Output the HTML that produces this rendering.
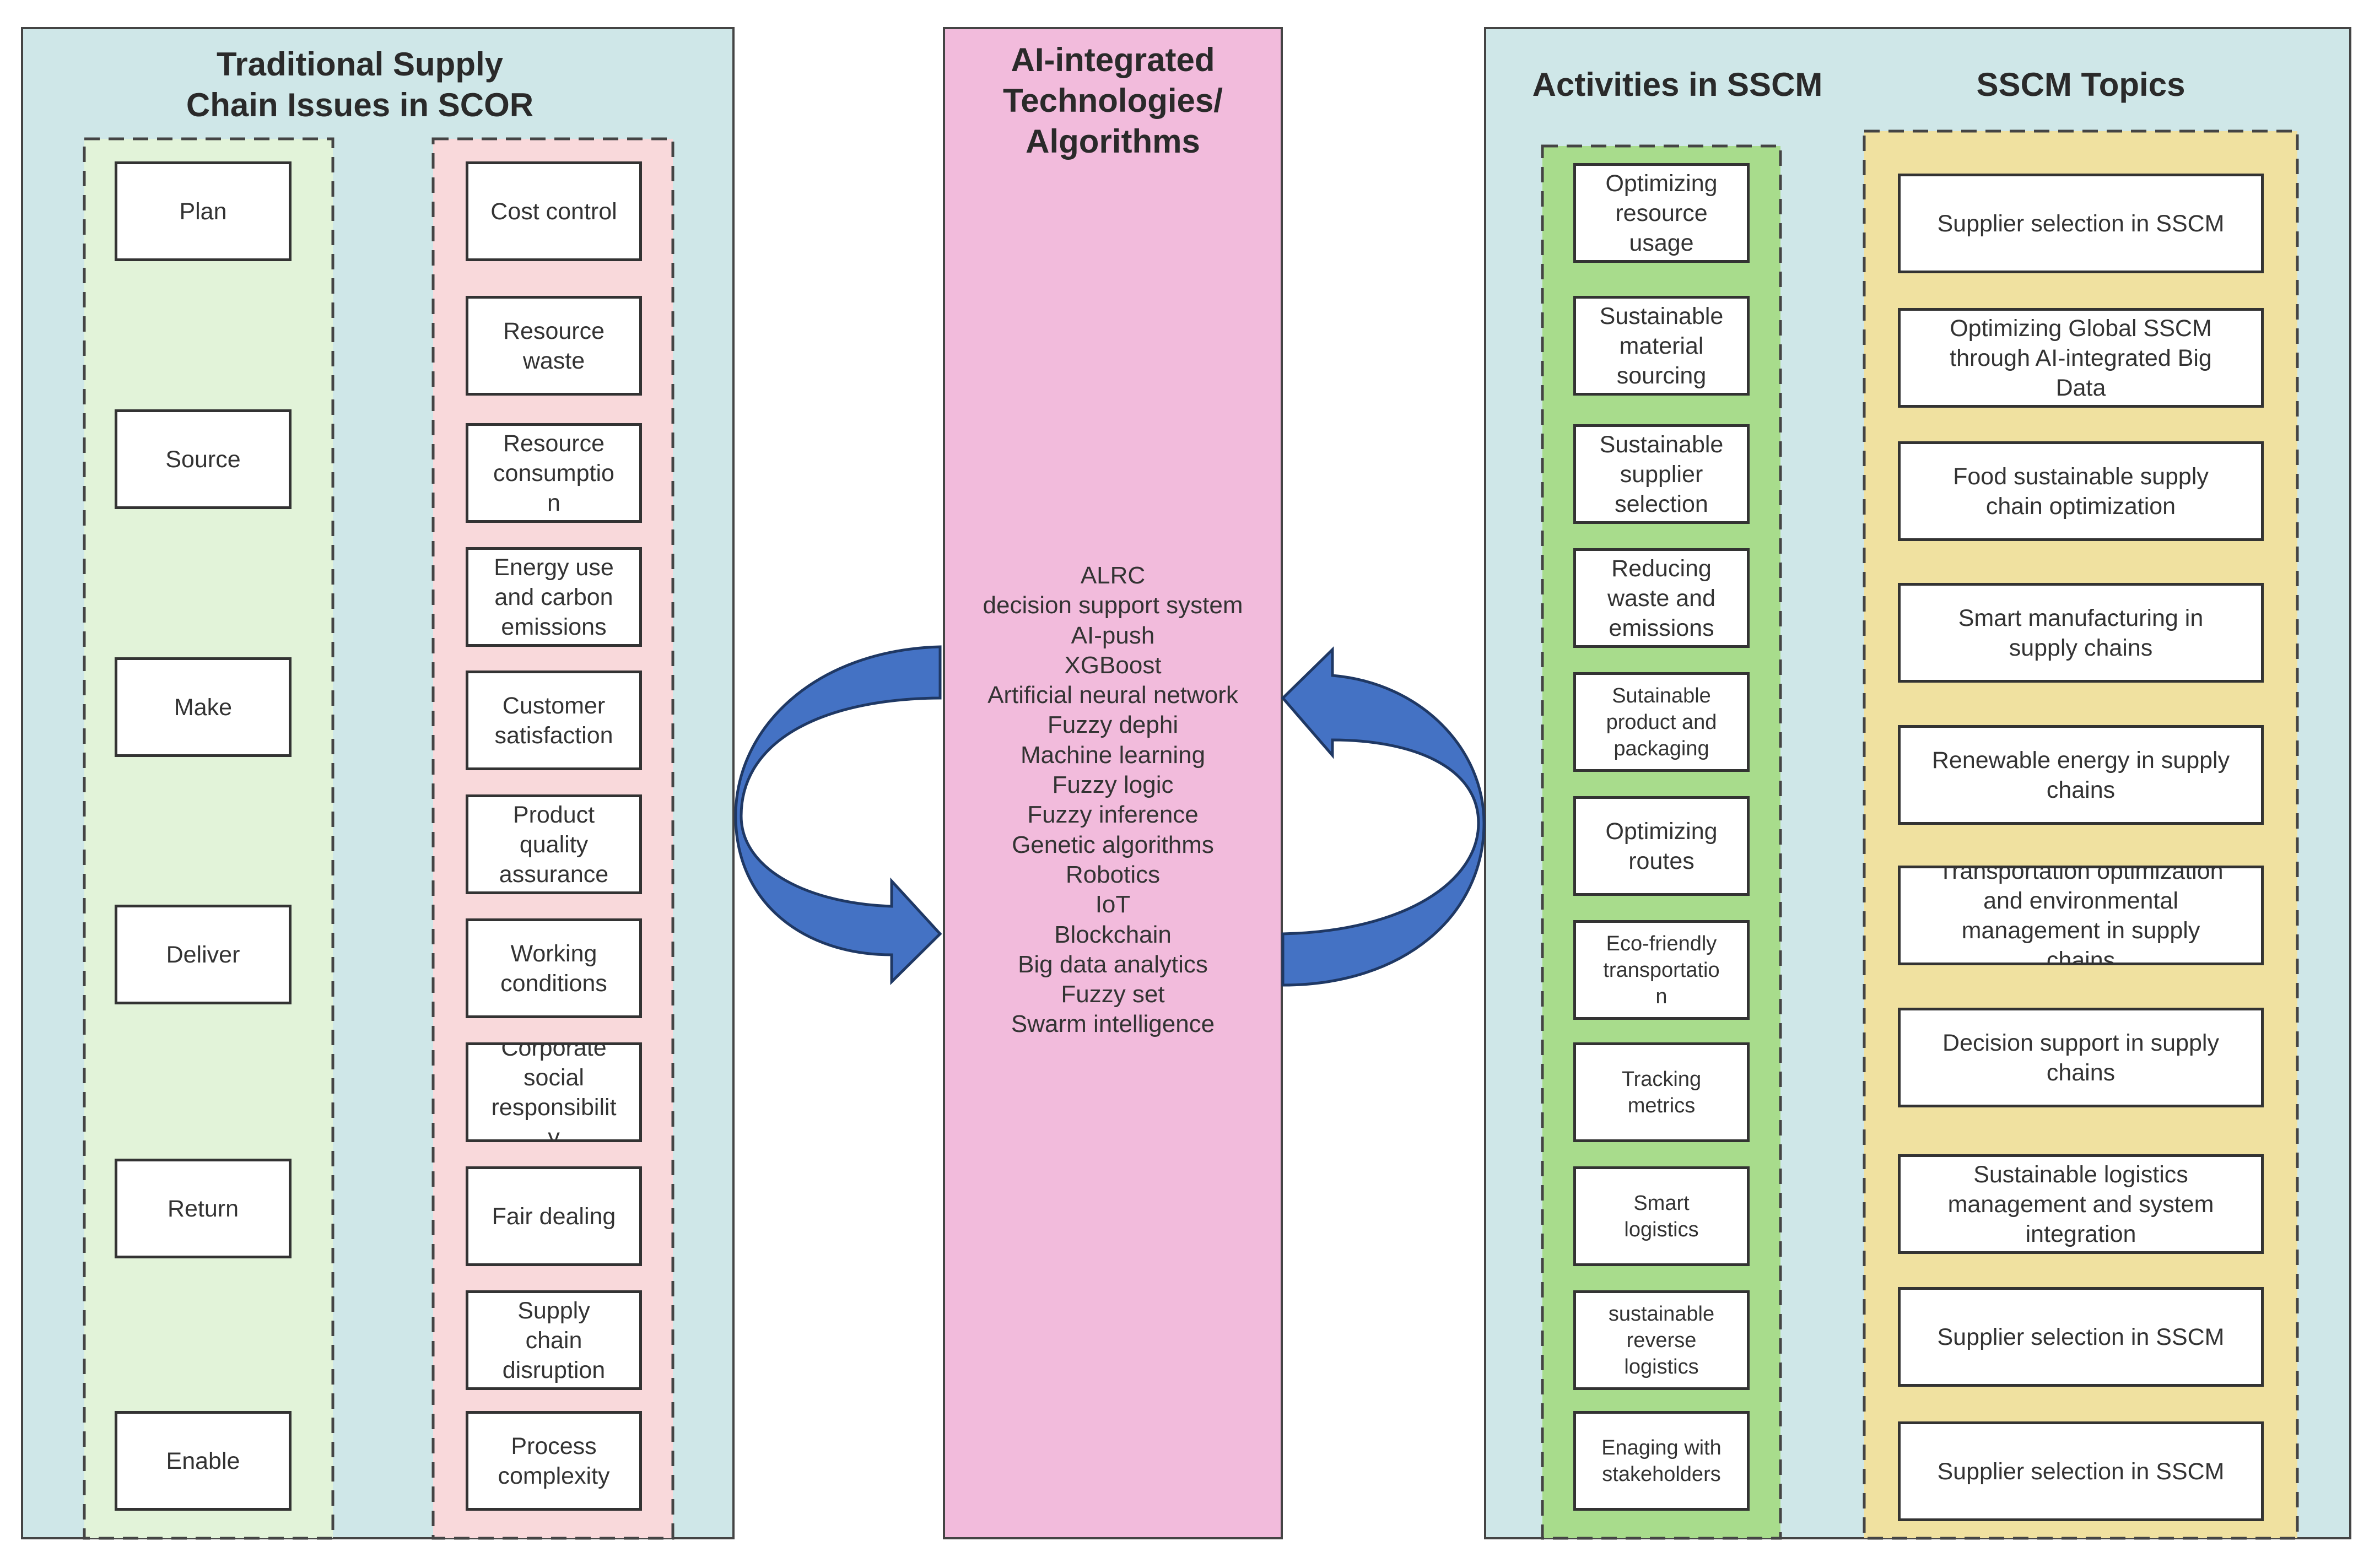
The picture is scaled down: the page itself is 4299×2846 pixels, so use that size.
<!DOCTYPE html>
<html><head><meta charset="utf-8"><style>
*{margin:0;padding:0;box-sizing:border-box}
body{width:4299px;height:2846px;background:#fff;position:relative;overflow:hidden;font-family:"Liberation Sans",sans-serif;color:#333}
.a{position:absolute}
.panel{background:#cfe7e8;border:4px solid #444}
.box{position:absolute;background:#fff;border:5px solid #333;display:flex;align-items:center;justify-content:center;text-align:center;font-size:43px;line-height:54px;color:#333}
.t{position:absolute;font-weight:bold;font-size:60px;text-align:center;color:#2a2a2a;line-height:74px}
.l{width:321px;height:181px;left:208px}
.r{width:320px;height:181px;left:845px}
.ac{width:320px;height:181px;left:2855px}
.tp{width:664px;height:181px;left:3444px}
.sm{font-size:38px;line-height:48px}
</style></head><body>
<div class="a panel" style="left:38px;top:49px;width:1295px;height:2745px"></div>
<div class="a panel" style="left:2693px;top:49px;width:1574px;height:2745px"></div>
<svg class="a" style="left:0;top:0" width="4299" height="2846">
<g stroke="#444" stroke-width="5" stroke-dasharray="28 16">
<rect x="153" y="252" width="451" height="2540" fill="#e2f3d9"/>
<rect x="786" y="252" width="435" height="2540" fill="#f9d9db"/>
<rect x="2799" y="265" width="432" height="2527" fill="#a8dc8c"/>
<rect x="3383" y="238" width="786" height="2554" fill="#f0e1a0"/>
</g>
</svg>
<div class="t" style="left:200px;top:80px;width:906px">Traditional Supply<br>Chain Issues in SCOR</div>
<div class="box l" style="top:293px">Plan</div>
<div class="box l" style="top:743px">Source</div>
<div class="box l" style="top:1193px">Make</div>
<div class="box l" style="top:1642px">Deliver</div>
<div class="box l" style="top:2103px">Return</div>
<div class="box l" style="top:2561px">Enable</div>
<div class="box r" style="top:293px">Cost control</div>
<div class="box r" style="top:537px">Resource<br>waste</div>
<div class="box r" style="top:768px">Resource<br>consumptio<br>n</div>
<div class="box r" style="top:993px">Energy use<br>and carbon<br>emissions</div>
<div class="box r" style="top:1217px">Customer<br>satisfaction</div>
<div class="box r" style="top:1442px">Product<br>quality<br>assurance</div>
<div class="box r" style="top:1667px">Working<br>conditions</div>
<div class="box r" style="top:1892px;overflow:hidden">Corporate<br>social<br>responsibilit<br>y</div>
<div class="box r" style="top:2117px">Fair dealing</div>
<div class="box r" style="top:2342px">Supply<br>chain<br>disruption</div>
<div class="box r" style="top:2561px">Process<br>complexity</div>

<div class="a" style="left:1711px;top:49px;width:617px;height:2745px;background:#f2bbdc;border:4px solid #444"></div>
<div class="t" style="left:1711px;top:72px;width:617px">AI-integrated<br>Technologies/<br>Algorithms</div>
<div class="a" style="left:1711px;top:1018px;width:617px;text-align:center;font-size:44px;line-height:54.3px;color:#333">ALRC<br>decision support system<br>AI-push<br>XGBoost<br>Artificial neural network<br>Fuzzy dephi<br>Machine learning<br>Fuzzy logic<br>Fuzzy inference<br>Genetic algorithms<br>Robotics<br>IoT<br>Blockchain<br>Big data analytics<br>Fuzzy set<br>Swarm intelligence</div>

<div class="t" style="left:2744px;top:117px;width:600px">Activities in SSCM</div>
<div class="t" style="left:3476px;top:117px;width:600px">SSCM Topics</div>
<div class="box ac" style="top:296px">Optimizing<br>resource<br>usage</div>
<div class="box ac" style="top:537px">Sustainable<br>material<br>sourcing</div>
<div class="box ac" style="top:770px">Sustainable<br>supplier<br>selection</div>
<div class="box ac" style="top:995px">Reducing<br>waste and<br>emissions</div>
<div class="box ac sm" style="top:1220px">Sutainable<br>product and<br>packaging</div>
<div class="box ac" style="top:1445px">Optimizing<br>routes</div>
<div class="box ac sm" style="top:1670px">Eco-friendly<br>transportatio<br>n</div>
<div class="box ac sm" style="top:1892px">Tracking<br>metrics</div>
<div class="box ac sm" style="top:2117px">Smart<br>logistics</div>
<div class="box ac sm" style="top:2342px">sustainable<br>reverse<br>logistics</div>
<div class="box ac sm" style="top:2561px">Enaging with<br>stakeholders</div>
<div class="box tp" style="top:315px">Supplier selection in SSCM</div>
<div class="box tp" style="top:559px">Optimizing Global SSCM<br>through AI-integrated Big<br>Data</div>
<div class="box tp" style="top:801px">Food sustainable supply<br>chain optimization</div>
<div class="box tp" style="top:1058px">Smart manufacturing in<br>supply chains</div>
<div class="box tp" style="top:1316px">Renewable energy in supply<br>chains</div>
<div class="box tp" style="top:1571px;overflow:hidden">Transportation optimization<br>and environmental<br>management in supply<br>chains</div>
<div class="box tp" style="top:1829px">Decision support in supply<br>chains</div>
<div class="box tp" style="top:2095px">Sustainable logistics<br>management and system<br>integration</div>
<div class="box tp" style="top:2336px">Supplier selection in SSCM</div>
<div class="box tp" style="top:2580px">Supplier selection in SSCM</div>

<svg class="a" style="left:0;top:0" width="4299" height="2846">
<path d="M1706,1174 C1480,1180 1335,1320 1335,1481 C1335,1640 1460,1733 1618,1733 L1618,1782 L1706,1695 L1618,1599 L1618,1645 C1470,1640 1345,1580 1345,1481 C1345,1340 1500,1268 1706,1267 Z" fill="#4472c4" stroke="#1f3864" stroke-width="5"/>
<path d="M2328,1695 C2550,1690 2683,1600 2683,1494 C2683,1390 2560,1343 2418,1343 L2418,1371 L2328,1267 L2418,1179 L2418,1226 C2580,1240 2693,1360 2693,1494 C2693,1660 2550,1788 2328,1788 Z" fill="#4472c4" stroke="#1f3864" stroke-width="5"/>
</svg>
</body></html>
